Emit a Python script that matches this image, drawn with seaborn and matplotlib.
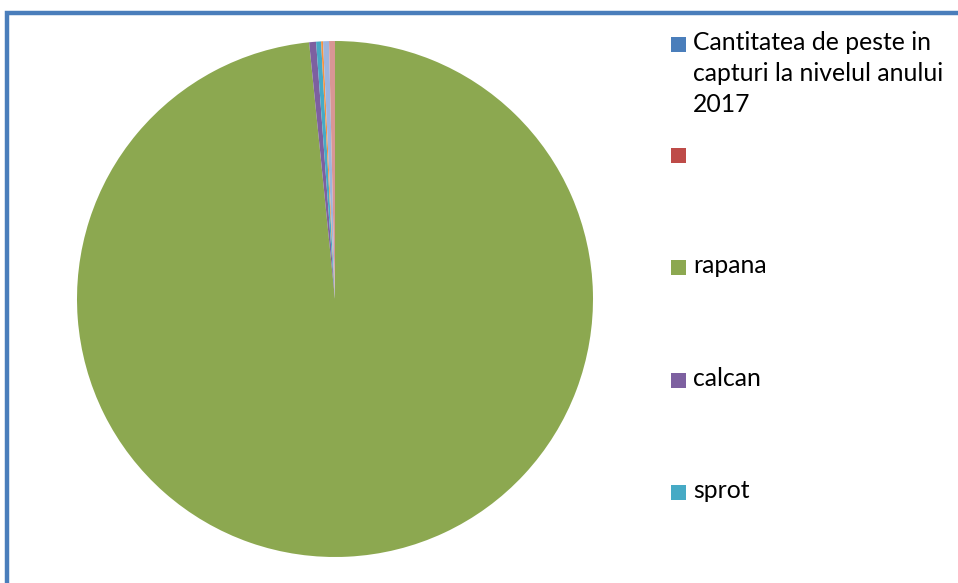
import matplotlib
matplotlib.use("Agg")
import matplotlib.pyplot as plt
from matplotlib.patches import Rectangle
import seaborn as sns

sns.set_theme(style="white")
plt.rcParams["font.family"] = ["Lato", "DejaVu Sans"]

# Data (relative shares)
categories = ["Cantitatea de peste in\ncapturi la nivelul anului\n2017", "", "rapana", "calcan", "sprot",
              "specia 6", "specia 7", "specia 8"]
values = [0, 0, 9840, 43, 31, 12, 37, 37]
legend_shown = 5
colors = sns.color_palette(["#4A7EBB", "#BE4B48", "#8CA850", "#7D60A0", "#46AAC5",
                            "#F69240", "#9DB5DE", "#D99694"])

W, H = 958, 583
fig = plt.figure(figsize=(W / 100, H / 100), dpi=100)
fig.patch.set_facecolor("white")

# Frame border
fig.patches.append(Rectangle((7 / W, -0.1), 1.2, (H - 13) / H + 0.1, transform=fig.transFigure,
                             fill=False, edgecolor="#4A7EBB", linewidth=3.2, zorder=0))

cx, cy, r = 335, 299, 258
ax = fig.add_axes([(cx - r) / W, (H - cy - r) / H, 2 * r / W, 2 * r / H])
wedges, _ = ax.pie(values, colors=colors, startangle=90, counterclock=False, radius=1,
                   wedgeprops=dict(linewidth=0))
ax.set_xlim(-1, 1)
ax.set_ylim(-1, 1)
ax.set_aspect("equal")
ax.axis("off")

# Legend (manual, Excel-like layout)
ys = [44, 155, 267, 380, 492]
for i in range(legend_shown):
    y = ys[i]
    fig.patches.append(Rectangle((671 / W, (H - y - 8) / H), 15 / W, 15 / H, transform=fig.transFigure,
                                 facecolor=colors[i], edgecolor="none"))
    if categories[i]:
        fig.text(693 / W, (H - y + 13) / H, categories[i], fontsize=17.8, color="#000000",
                 va="top", ha="left", linespacing=1.42)

fig.savefig("out.png", dpi=100)
